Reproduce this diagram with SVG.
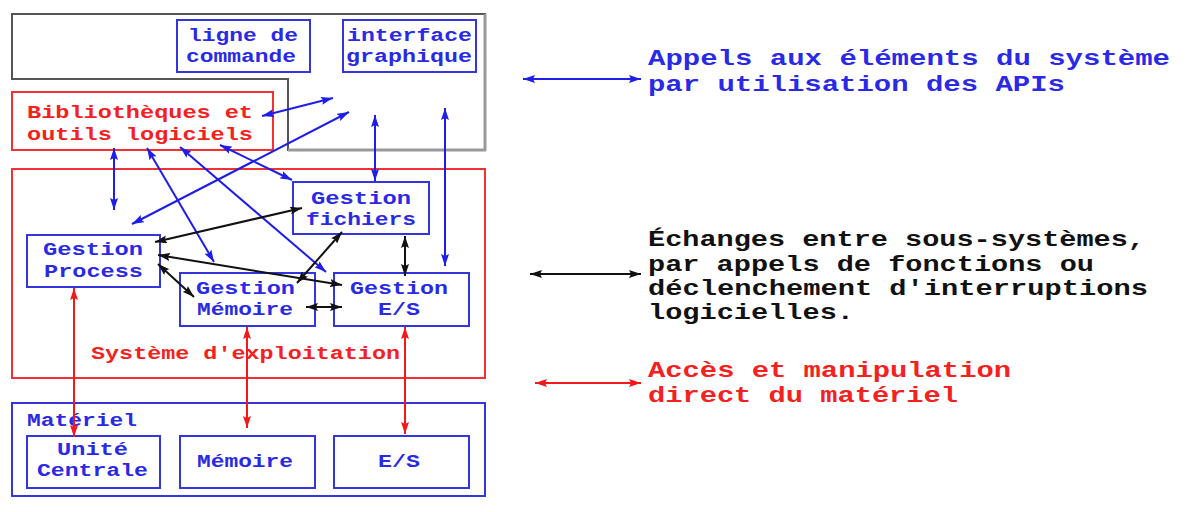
<svg xmlns="http://www.w3.org/2000/svg" width="1186" height="512" viewBox="0 0 1186 512">
<style>
text{font-family:"Liberation Mono","Courier New",monospace;font-weight:bold;}
.t{font-size:18px;}
.l{font-size:22px;}
.b{fill:#2a2ae6;}
.r{fill:#f52020;}
.k{fill:#111;}
.bx{fill:none;stroke:#3535e0;stroke-width:2;}
.rx{fill:none;stroke:#f53030;stroke-width:2;}
.cb{stroke:#1e1ee8;stroke-width:2;fill:none;marker-start:url(#ab);marker-end:url(#ab);}
.ck{stroke:#111;stroke-width:2;fill:none;marker-start:url(#ak);marker-end:url(#ak);}
.cr{stroke:#f51818;stroke-width:2;fill:none;marker-start:url(#ar);marker-end:url(#ar);}
</style>
<defs>
<marker id="ab" viewBox="0 0 12 8" refX="12" refY="4" markerWidth="12" markerHeight="8" markerUnits="userSpaceOnUse" orient="auto-start-reverse"><path d="M0,0L12,4L0,8L2,4z" fill="#1e1ee8"/></marker>
<marker id="ak" viewBox="0 0 12 8" refX="12" refY="4" markerWidth="12" markerHeight="8" markerUnits="userSpaceOnUse" orient="auto-start-reverse"><path d="M0,0L12,4L0,8L2,4z" fill="#111"/></marker>
<marker id="ar" viewBox="0 0 12 8" refX="12" refY="4" markerWidth="12" markerHeight="8" markerUnits="userSpaceOnUse" orient="auto-start-reverse"><path d="M0,0L12,4L0,8L2,4z" fill="#f51818"/></marker>
</defs>

<g id="applications">
<path d="M12,14H485V150H288V79H12Z" fill="none" stroke="#555" stroke-width="2"/>
<line x1="485" y1="14" x2="485" y2="151" stroke="#999" stroke-width="3"/>
<line x1="288" y1="150" x2="486" y2="150" stroke="#999" stroke-width="3"/>
</g>
<g id="ligne-commande">
<rect class="bx" x="177" y="20" width="133" height="52"/>
<text class="t b" x="188" y="41" textLength="110" lengthAdjust="spacingAndGlyphs">ligne de</text>
<text class="t b" x="186" y="62" textLength="110" lengthAdjust="spacingAndGlyphs">commande</text>
</g>
<g id="interface-graphique">
<rect class="bx" x="343" y="20" width="133" height="52"/>
<text class="t b" x="347" y="41" textLength="125" lengthAdjust="spacingAndGlyphs">interface</text>
<text class="t b" x="346" y="62" textLength="126" lengthAdjust="spacingAndGlyphs">graphique</text>
</g>
<g id="bibliotheques">
<rect class="rx" x="12" y="92" width="261" height="58"/>
<text class="t r" x="27" y="118" textLength="226" lengthAdjust="spacingAndGlyphs">Bibliothèques et</text>
<text class="t r" x="27" y="140" textLength="226" lengthAdjust="spacingAndGlyphs">outils logiciels</text>
</g>

<g id="systeme-exploitation">
<rect class="rx" x="12" y="169" width="473" height="209"/>
<text class="t r" x="91" y="359" textLength="309" lengthAdjust="spacingAndGlyphs">Système d'exploitation</text>
</g>
<g id="gestion-fichiers">
<rect class="bx" x="293" y="182" width="136" height="52"/>
<text class="t b" x="311" y="204" textLength="100" lengthAdjust="spacingAndGlyphs">Gestion</text>
<text class="t b" x="306" y="225" textLength="110" lengthAdjust="spacingAndGlyphs">fichiers</text>
</g>
<g id="gestion-process">
<rect class="bx" x="27" y="235" width="133" height="52"/>
<text class="t b" x="43" y="255" textLength="100" lengthAdjust="spacingAndGlyphs">Gestion</text>
<text class="t b" x="44" y="277" textLength="99" lengthAdjust="spacingAndGlyphs">Process</text>
</g>
<g id="gestion-memoire">
<rect class="bx" x="180" y="273" width="135" height="53"/>
<text class="t b" x="196" y="294" textLength="99" lengthAdjust="spacingAndGlyphs">Gestion</text>
<text class="t b" x="197" y="315" textLength="96" lengthAdjust="spacingAndGlyphs">Mémoire</text>
</g>
<g id="gestion-es">
<rect class="bx" x="334" y="273" width="135" height="53"/>
<text class="t b" x="350" y="294" textLength="98" lengthAdjust="spacingAndGlyphs">Gestion</text>
<text class="t b" x="378" y="315" textLength="42" lengthAdjust="spacingAndGlyphs">E/S</text>
</g>

<g id="materiel">
<rect class="bx" x="12" y="403" width="473" height="93" stroke-width="2.5"/>
<text class="t b" x="27" y="426" textLength="110" lengthAdjust="spacingAndGlyphs">Matériel</text>
</g>
<g id="unite-centrale">
<rect class="bx" x="27" y="436" width="133" height="52"/>
<text class="t b" x="57" y="455" textLength="71" lengthAdjust="spacingAndGlyphs">Unité</text>
<text class="t b" x="37" y="476" textLength="111" lengthAdjust="spacingAndGlyphs">Centrale</text>
</g>
<g id="memoire">
<rect class="bx" x="180" y="436" width="135" height="52"/>
<text class="t b" x="197" y="467" textLength="96" lengthAdjust="spacingAndGlyphs">Mémoire</text>
</g>
<g id="es">
<rect class="bx" x="334" y="436" width="135" height="52"/>
<text class="t b" x="378" y="467" textLength="42" lengthAdjust="spacingAndGlyphs">E/S</text>
</g>

<g id="connectors">
<line class="cb" x1="262" y1="116" x2="333" y2="98"/>
<line class="cb" x1="132" y1="224" x2="349" y2="112"/>
<line class="cb" x1="375" y1="115" x2="375" y2="181"/>
<line class="cb" x1="445" y1="108" x2="445" y2="266"/>
<line class="cb" x1="114" y1="148" x2="114" y2="210"/>
<line class="cb" x1="147" y1="148" x2="214" y2="262"/>
<line class="cb" x1="180" y1="147" x2="326" y2="272"/>
<line class="cb" x1="220" y1="145" x2="292" y2="180"/>
<line class="ck" x1="155" y1="242" x2="302" y2="208"/>
<line class="ck" x1="158" y1="255" x2="342" y2="285"/>
<line class="ck" x1="158" y1="264" x2="194" y2="297"/>
<line class="ck" x1="297" y1="283" x2="342" y2="232"/>
<line class="ck" x1="405" y1="236" x2="405" y2="276"/>
<line class="ck" x1="306" y1="307" x2="342" y2="307"/>
<line class="cr" x1="74" y1="288" x2="74" y2="437"/>
<line class="cr" x1="247" y1="327" x2="247" y2="428"/>
<line class="cr" x1="405" y1="327" x2="405" y2="434"/>
<line class="cb" x1="523" y1="79" x2="641" y2="79"/>
<line class="ck" x1="530" y1="274" x2="641" y2="274"/>
<line class="cr" x1="535" y1="383" x2="641" y2="383"/>
</g>

<g id="legende">
<text class="l b" x="648" y="65" textLength="522" lengthAdjust="spacingAndGlyphs">Appels aux éléments du système</text>
<text class="l b" x="648" y="91" textLength="417" lengthAdjust="spacingAndGlyphs">par utilisation des APIs</text>
<text class="l k" x="648" y="246" textLength="497" lengthAdjust="spacingAndGlyphs">Échanges entre sous-systèmes,</text>
<text class="l k" x="648" y="271" textLength="446" lengthAdjust="spacingAndGlyphs">par appels de fonctions ou</text>
<text class="l k" x="648" y="295" textLength="500" lengthAdjust="spacingAndGlyphs">déclenchement d'interruptions</text>
<text class="l k" x="648" y="319" textLength="206" lengthAdjust="spacingAndGlyphs">logicielles.</text>
<text class="l r" x="648" y="377" textLength="363" lengthAdjust="spacingAndGlyphs">Accès et manipulation</text>
<text class="l r" x="648" y="402" textLength="310" lengthAdjust="spacingAndGlyphs">direct du matériel</text>
</g>
</svg>
